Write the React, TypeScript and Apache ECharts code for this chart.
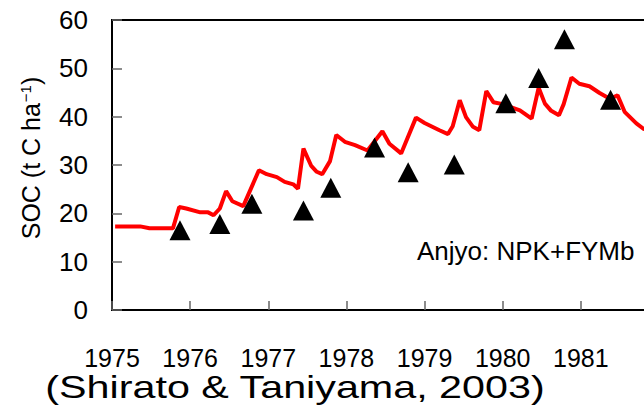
import React, { useEffect, useRef } from "react";
import * as echarts from "echarts";

const lineYears = [
  1975.04, 1975.36, 1975.48, 1975.78, 1975.86, 1975.95, 1976.13, 1976.23, 1976.3, 1976.38,
  1976.46, 1976.54, 1976.68, 1976.88, 1976.98, 1977.11, 1977.21, 1977.32, 1977.38, 1977.45,
  1977.55, 1977.62, 1977.69, 1977.79, 1977.87, 1977.98, 1978.11, 1978.27, 1978.46, 1978.55,
  1978.7, 1978.89, 1979.0, 1979.19, 1979.3, 1979.36, 1979.45, 1979.53, 1979.62, 1979.7,
  1979.79, 1979.88, 1980.0, 1980.22, 1980.37, 1980.46, 1980.54, 1980.62, 1980.72, 1980.78,
  1980.88, 1980.98, 1981.11, 1981.24, 1981.37, 1981.47, 1981.56, 1981.71, 1981.8, 1981.95,
];
const lineSoc = [
  17.3, 17.3, 16.9, 16.9, 21.3, 21.0, 20.2, 20.2, 19.6, 21.0,
  24.6, 22.5, 21.5, 28.9, 28.1, 27.5, 26.5, 26.0, 25.1, 33.4,
  29.8, 28.6, 28.1, 30.8, 36.2, 34.8, 34.1, 33.0, 37.0, 34.4,
  32.4, 39.8, 38.7, 37.2, 36.4, 38.0, 43.4, 39.9, 37.9, 37.2,
  45.3, 43.0, 42.6, 41.3, 39.6, 46.0, 42.7, 41.2, 40.3, 42.6,
  48.1, 46.8, 46.3, 44.9, 43.7, 44.4, 41.0, 38.6, 37.5, 36.8,
];
const obsYears = [
  1975.87, 1976.38, 1976.79, 1977.45, 1977.8, 1978.36, 1978.79, 1979.38, 1980.04, 1980.46,
  1980.79, 1981.38,
];
const obsSoc = [16.5, 17.8, 22.0, 20.6, 25.3, 33.6, 28.5, 30.1, 42.8, 48.0, 56.0, 43.5];

const yTicks = [0, 10, 20, 30, 40, 50, 60];
const xTickYears = [1975, 1976, 1977, 1978, 1979, 1980, 1981];

const yTitle = "SOC (t C ha";
const annotation = "Anjyo: NPK+FYMb";
const citation = "(Shirato & Taniyama, 2003)";

export default function App() {
  const ref = useRef<HTMLDivElement>(null);
  useEffect(() => {
    if (!ref.current) return;
    const chart = echarts.init(ref.current, undefined, { renderer: "svg" });
    const font = "'Liberation Sans', Arial, sans-serif";
    chart.setOption({
      animation: false,
      backgroundColor: "#ffffff",
      grid: {
        left: 112,
        top: 20,
        right: 0,
        bottom: 99,
        show: true,
        borderColor: "#000",
        borderWidth: 2,
        containLabel: false,
      },
      xAxis: {
        type: "value",
        min: xTickYears[0],
        max: 1982,
        interval: 1,
        axisLine: { show: true, lineStyle: { color: "#000", width: 2 } },
        axisTick: { show: true, inside: true, length: 9, lineStyle: { color: "#666", width: 1.5 } },
        splitLine: { show: false },
        axisLabel: {
          showMaxLabel: false,
          margin: 35,
          fontSize: 25,
          color: "#000",
          fontFamily: font,
          formatter: (v: number) => String(v),
        },
      },
      yAxis: {
        type: "value",
        min: yTicks[0],
        max: yTicks[yTicks.length - 1],
        interval: 10,
        axisLine: { show: true, lineStyle: { color: "#000", width: 2 } },
        axisTick: { show: true, inside: true, length: 10, lineStyle: { color: "#666", width: 1.5 } },
        splitLine: { show: false },
        axisLabel: { margin: 24, fontSize: 26, color: "#000", fontFamily: font },
      },
      series: [
        {
          type: "line",
          data: lineYears.map((x, i) => [x, lineSoc[i]]),
          symbol: "none",
          lineStyle: { color: "#ff0000", width: 4 },
          z: 2,
        },
        {
          type: "scatter",
          data: obsYears.map((x, i) => [x, obsSoc[i]]),
          symbol: "triangle",
          symbolSize: [21, 20],
          itemStyle: { color: "#000", opacity: 1 },
          z: 3,
        },
      ],
      graphic: [
        {
          type: "text",
          x: 31,
          y: 158,
          rotation: Math.PI / 2,
          style: {
            text: `{a|${yTitle}}{s|−1}{a|)}`,
            rich: {
              a: { fontSize: 25, fontFamily: font, fill: "#000" },
              s: { fontSize: 15, fontFamily: font, fill: "#000", padding: [0, 0, 12, 1] },
            },
            align: "center",
            verticalAlign: "middle",
          },
        },
        {
          type: "text",
          x: 417,
          y: 251,
          style: {
            text: annotation,
            fontSize: 26,
            fontFamily: font,
            fill: "#000",
            align: "left",
            verticalAlign: "middle",
          },
        },
        {
          type: "text",
          x: 295,
          y: 387,
          scaleX: 1.29,
          style: {
            text: citation,
            fontSize: 32,
            fontFamily: font,
            fill: "#000",
            align: "center",
            verticalAlign: "middle",
          },
        },
      ],
    });
    return () => chart.dispose();
  }, []);
  return (
    <div style={{ position: "fixed", left: 0, top: 0, width: 644, height: 409, overflow: "hidden" }}>
      <div ref={ref} style={{ width: 659, height: 409 }} />
    </div>
  );
}
